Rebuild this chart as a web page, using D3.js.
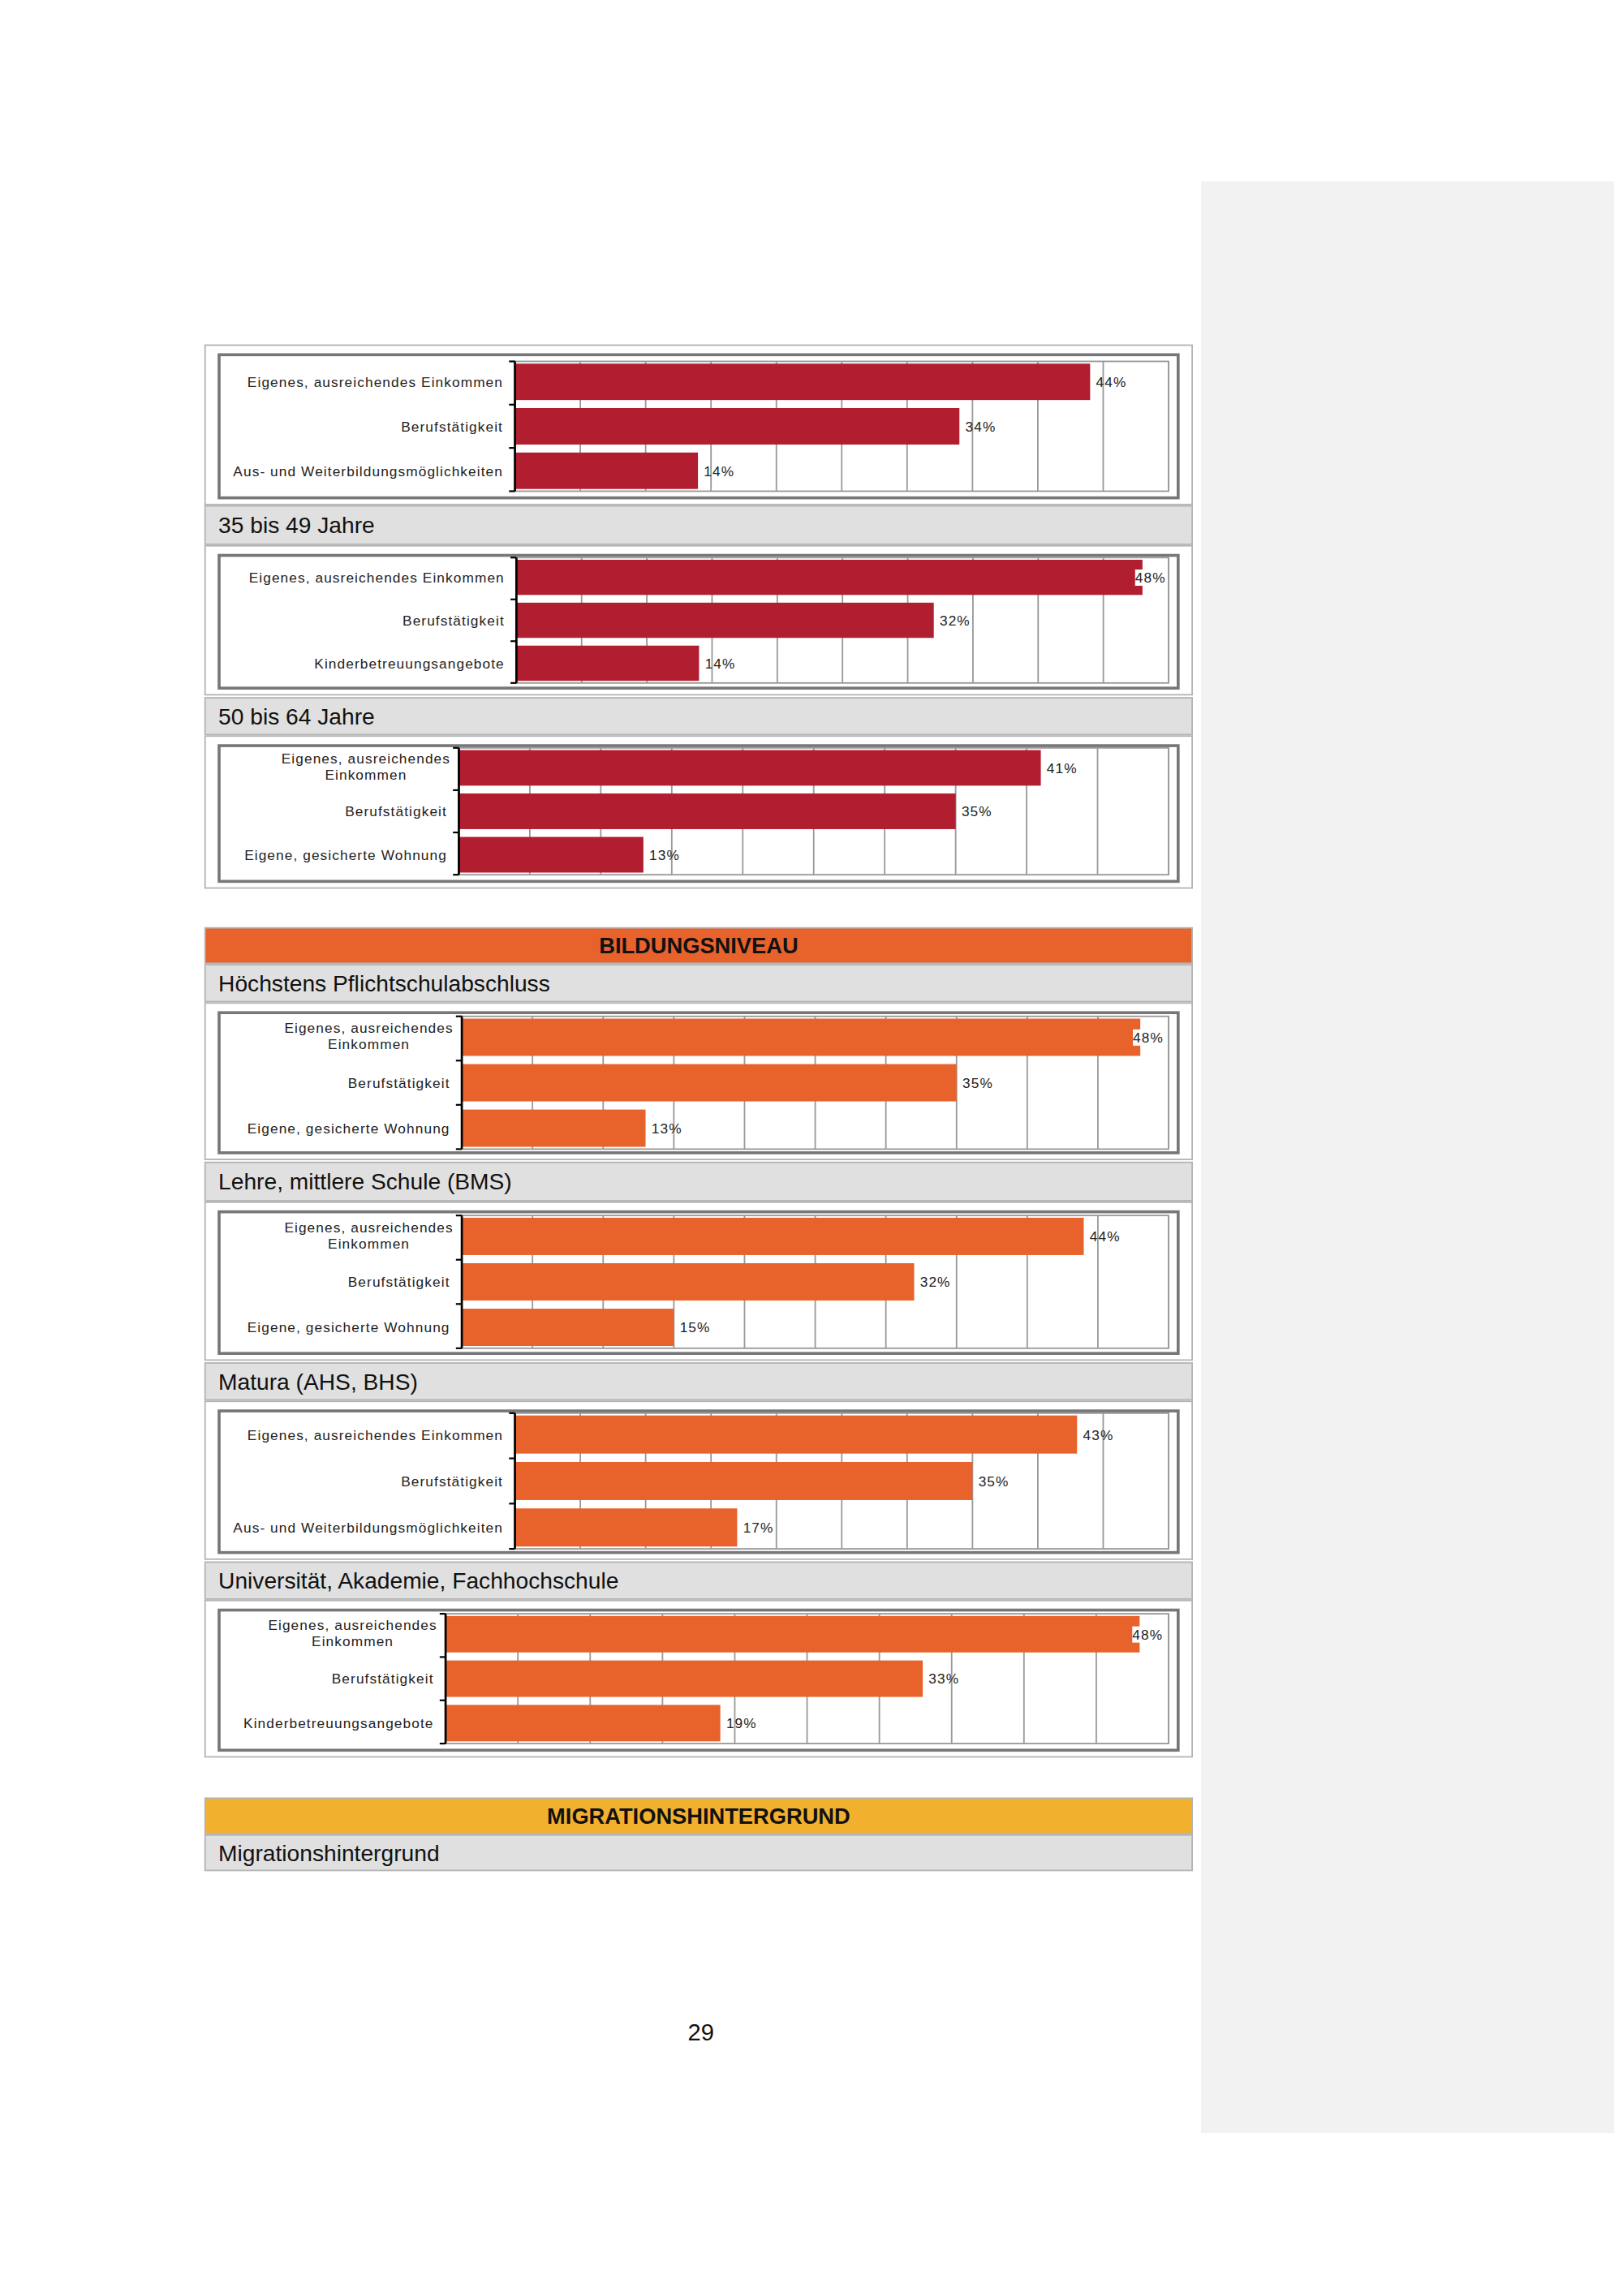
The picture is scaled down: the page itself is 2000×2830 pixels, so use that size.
<!DOCTYPE html>
<html>
<head>
<meta charset="utf-8">
<script src="https://cdn.jsdelivr.net/npm/d3@7"></script>
<style>
  body { margin: 0; background: #fff; }
  svg { display: block; }
</style>
</head>
<body>
<svg id="page"></svg>
<script>
// Data
const chartLabels = [
  ["Eigenes, ausreichendes Einkommen", "Berufstätigkeit", "Aus- und Weiterbildungsmöglichkeiten"],
  ["Eigenes, ausreichendes Einkommen", "Berufstätigkeit", "Kinderbetreuungsangebote"],
  ["Eigenes, ausreichendes|Einkommen", "Berufstätigkeit", "Eigene, gesicherte Wohnung"],
  ["Eigenes, ausreichendes|Einkommen", "Berufstätigkeit", "Eigene, gesicherte Wohnung"],
  ["Eigenes, ausreichendes|Einkommen", "Berufstätigkeit", "Eigene, gesicherte Wohnung"],
  ["Eigenes, ausreichendes Einkommen", "Berufstätigkeit", "Aus- und Weiterbildungsmöglichkeiten"],
  ["Eigenes, ausreichendes|Einkommen", "Berufstätigkeit", "Kinderbetreuungsangebote"]
];
const chartValues = [
  [44, 34, 14],
  [48, 32, 14],
  [41, 35, 13],
  [48, 35, 13],
  [44, 32, 15],
  [43, 35, 17],
  [48, 33, 19]
];
const chartColors = ["#b01e2f", "#b01e2f", "#b01e2f", "#e8622c", "#e8622c", "#e8622c", "#e8622c"];
const xDomain = [0, 50];
const xTicks = d3.range(0, 51, 5);

// Layout (display units; page is scaled to 2000x2830)
const boxes = [
  { top: 234, bottom: 342, plotLeft: 349, plotTop: 245, plotBottom: 333 },
  { top: 370, bottom: 471, plotLeft: 350, plotTop: 378, plotBottom: 463 },
  { top: 499, bottom: 602, plotLeft: 311, plotTop: 507, plotBottom: 593 },
  { top: 680, bottom: 786, plotLeft: 313, plotTop: 689, plotBottom: 779 },
  { top: 815, bottom: 922, plotLeft: 313, plotTop: 824, plotBottom: 914 },
  { top: 950, bottom: 1057, plotLeft: 349, plotTop: 958, plotBottom: 1050 },
  { top: 1085, bottom: 1191, plotLeft: 302, plotTop: 1094, plotBottom: 1182 }
];
const headers = [
  { y: 343, h: 26, text: "35 bis 49 Jahre", fill: "#e0e0e0" },
  { y: 473, h: 25, text: "50 bis 64 Jahre", fill: "#e0e0e0" },
  { y: 629, h: 24, text: "BILDUNGSNIVEAU", fill: "#e8622c", bold: true },
  { y: 654, h: 25, text: "Höchstens Pflichtschulabschluss", fill: "#e0e0e0" },
  { y: 788, h: 26, text: "Lehre, mittlere Schule (BMS)", fill: "#e0e0e0" },
  { y: 924, h: 25, text: "Matura (AHS, BHS)", fill: "#e0e0e0" },
  { y: 1059, h: 25, text: "Universität, Akademie, Fachhochschule", fill: "#e0e0e0" },
  { y: 1219, h: 24, text: "MIGRATIONSHINTERGRUND", fill: "#f2b02f", bold: true },
  { y: 1244, h: 24, text: "Migrationshintergrund", fill: "#e0e0e0" }
];

const W = 1100, H = 1556.5;
const left = 139, right = 808, plotRight = 792;

const svg = d3.select("#page")
  .attr("width", 2000).attr("height", 2830)
  .attr("viewBox", `0 0 ${W} ${H}`)
  .style("font-family", "'Liberation Sans', Arial, sans-serif");

// Grey side panel
svg.append("rect").attr("x", 814).attr("y", 123).attr("width", 280).attr("height", 1323).attr("fill", "#f2f2f2");

// Headers
headers.forEach(hd => {
  svg.append("rect").attr("x", left).attr("y", hd.y).attr("width", right - left).attr("height", hd.h)
    .attr("fill", hd.fill).attr("stroke", "#b4b4b4").attr("stroke-width", 1);
  svg.append("text")
    .attr("x", hd.bold ? (left + right) / 2 : left + 9)
    .attr("y", hd.y + hd.h / 2 + 5.5)
    .attr("text-anchor", hd.bold ? "middle" : "start")
    .attr("font-size", hd.bold ? 15 : 15.5)
    .attr("font-weight", hd.bold ? "bold" : "normal")
    .attr("fill", "#111")
    .text(hd.text);
});

// Charts
boxes.forEach((b, i) => {
  const g = svg.append("g");
  // outer box
  g.append("rect").attr("x", left).attr("y", b.top).attr("width", right - left).attr("height", b.bottom - b.top)
    .attr("fill", "#fff").attr("stroke", "#b4b4b4").attr("stroke-width", 1);
  // inner frame
  g.append("rect").attr("x", 148.5).attr("y", b.top + 6.5).attr("width", 650).attr("height", b.bottom - b.top - 11)
    .attr("fill", "#fff").attr("stroke", "#777").attr("stroke-width", 2);

  const x = d3.scaleLinear().domain(xDomain).range([b.plotLeft, plotRight]);
  const y = d3.scaleBand().domain(chartLabels[i]).range([b.plotTop, b.plotBottom]).paddingInner(0.18).paddingOuter(0.05);

  // plot area border + gridlines
  g.append("rect").attr("x", b.plotLeft).attr("y", b.plotTop).attr("width", plotRight - b.plotLeft)
    .attr("height", b.plotBottom - b.plotTop).attr("fill", "none").attr("stroke", "#999").attr("stroke-width", 1);
  g.selectAll(".grid").data(xTicks.slice(1)).join("line")
    .attr("x1", d => x(d)).attr("x2", d => x(d))
    .attr("y1", b.plotTop).attr("y2", b.plotBottom)
    .attr("stroke", "#999").attr("stroke-width", 1);

  // bars
  const data = chartLabels[i].map((l, j) => ({ label: l, value: chartValues[i][j] }));
  g.selectAll(".bar").data(data).join("rect")
    .attr("x", x(0)).attr("y", d => y(d.label))
    .attr("width", d => x(d.value) - x(0)).attr("height", y.bandwidth())
    .attr("fill", chartColors[i]);

  // value labels
  g.selectAll(".val").data(data).join("text")
    .attr("x", d => x(d.value) + (d.value >= 48 ? -5 : 4))
    .attr("y", d => y(d.label) + y.bandwidth() / 2 + 3.5)
    .attr("font-size", 9.5).attr("letter-spacing", 0.6).attr("fill", "#222")
    .each(function(d) {
      const t = d3.select(this).text(d.value + "%");
      if (d.value >= 48) {
        const bb = this.getBBox();
        d3.select(this.parentNode).insert("rect", () => this)
          .attr("x", bb.x).attr("y", bb.y).attr("width", bb.width).attr("height", bb.height).attr("fill", "#fff");
      }
    });

  // left axis
  g.append("line").attr("x1", b.plotLeft).attr("x2", b.plotLeft).attr("y1", b.plotTop).attr("y2", b.plotBottom)
    .attr("stroke", "#000").attr("stroke-width", 1.5);
  const step = (b.plotBottom - b.plotTop) / 3;
  g.selectAll(".tick").data([0, 1, 2, 3]).join("line")
    .attr("x1", b.plotLeft - 4).attr("x2", b.plotLeft)
    .attr("y1", k => b.plotTop + k * step).attr("y2", k => b.plotTop + k * step)
    .attr("stroke", "#000").attr("stroke-width", 1.2);

  // category labels
  data.forEach(d => {
    const lines = d.label.split("|");
    const cy = y(d.label) + y.bandwidth() / 2;
    const t = g.append("text").attr("font-size", 9.5).attr("letter-spacing", 0.6).attr("fill", "#222")
      .attr("text-anchor", lines.length > 1 ? "middle" : "end");
    if (lines.length > 1) {
      const cx = b.plotLeft - 8 - 55;
      lines.forEach((ln, k) => t.append("tspan").attr("x", cx).attr("y", cy - 3 + k * 11).text(ln));
    } else {
      t.attr("x", b.plotLeft - 8).attr("y", cy + 3.5).text(lines[0]);
    }
  });
});

// Page number
svg.append("text").attr("x", 475).attr("y", 1383).attr("text-anchor", "middle")
  .attr("font-size", 16).attr("fill", "#111").text("29");
</script>
</body>
</html>
